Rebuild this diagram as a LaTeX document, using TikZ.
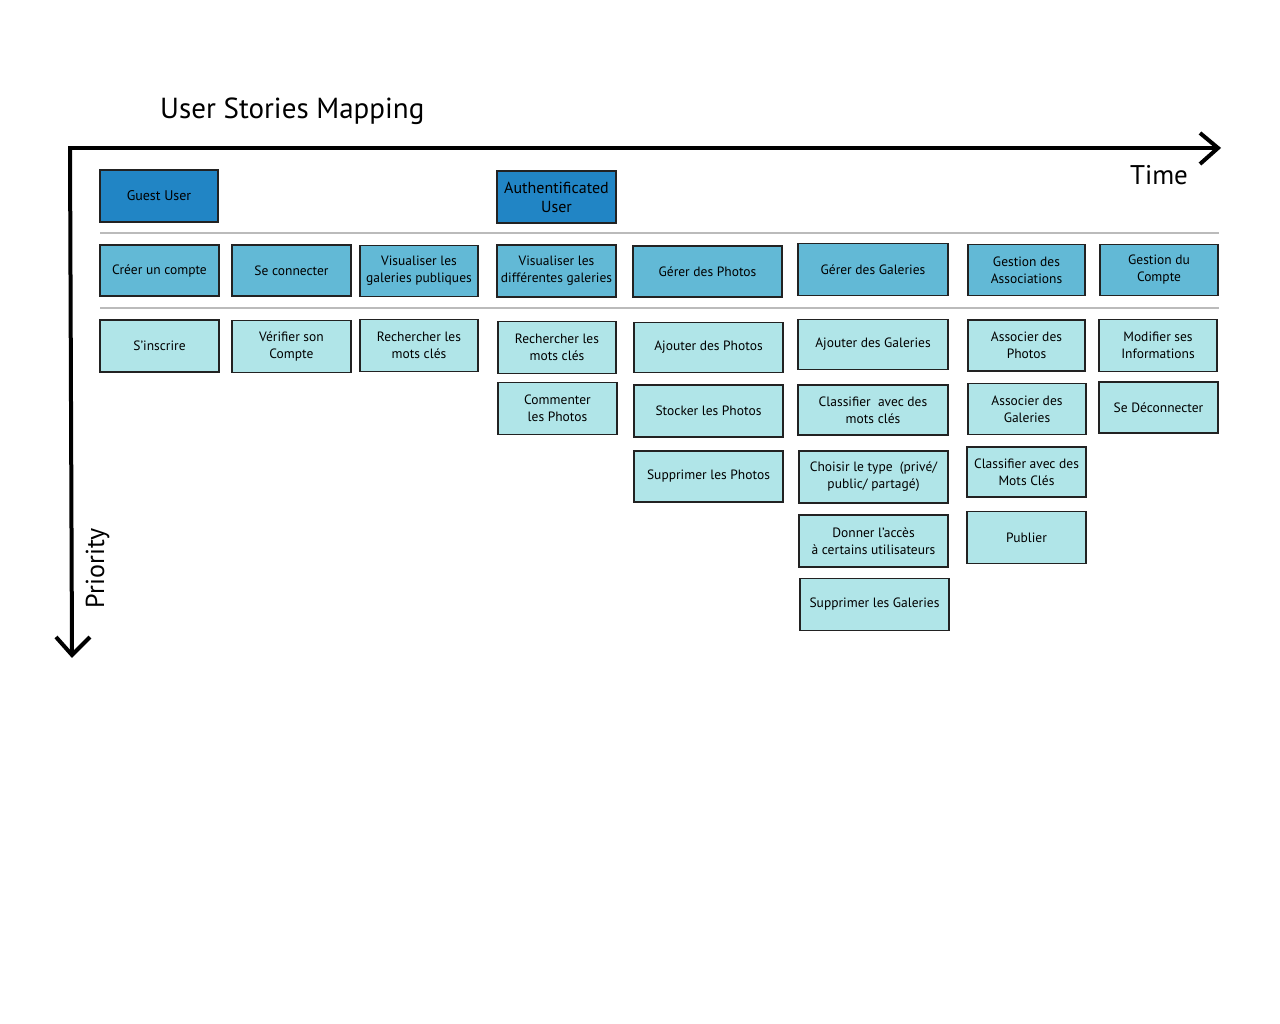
\documentclass[tikz,border=0pt]{standalone}
\usepackage{fontspec}
\setmainfont{PT Sans}
\definecolor{darkb}{HTML}{2185C5}
\definecolor{midb}{HTML}{62B9D6}
\definecolor{lightb}{HTML}{B0E5E8}
\definecolor{edgec}{HTML}{222222}
\definecolor{sepc}{HTML}{BBBBBB}
\tikzset{
  card/.style={draw=edgec, line width=1.3pt, inner sep=1pt, align=center,
    font=\fontsize{13.5}{17}\selectfont, text=black},
  rolebox/.style={card, fill=darkb, font=\fontsize{14}{19}\selectfont},
  epicbox/.style={card, fill=midb},
  storybox/.style={card, fill=lightb},
  axisline/.style={line width=4pt, black},
  sepline/.style={line width=1.5pt, sepc},
  sz/.style 2 args={minimum width=#1pt, minimum height=#2pt},
}
\begin{document}
\begin{tikzpicture}[x=1pt,y=-1pt]
\useasboundingbox (0,0) rectangle (1280,1024);
\fill[white] (0,0) rectangle (1280,1024);

% title and axes labels
\node[anchor=base west, inner sep=0, font=\fontsize{29}{34}\selectfont] (title) at (160,119) {User Stories Mapping};
\node[anchor=base, inner sep=0, font=\fontsize{27}{32}\selectfont] (time) at (1159,185) {Time};
\node[anchor=base, rotate=90, inner sep=0, font=\fontsize{26}{30}\selectfont] (prio) at (104,568) {Priority};

% axes
\coordinate (origin) at (70,148);
\coordinate (tstart) at (68,148);
\coordinate (tend) at (1218,148);
\coordinate (pend) at (72,655);
\coordinate (ta) at (1200,133);
\coordinate (tb) at (1200,164);
\coordinate (pa) at (56,637);
\coordinate (pb) at (90,637);
\draw[axisline] (tstart) -- (tend);
\draw[axisline] (origin) -- (pend);
\draw[axisline, line join=miter] (ta) -- (tend) -- (tb);
\draw[axisline, line join=miter] (pa) -- (pend) -- (pb);

% separators
\coordinate (s1a) at (100,233);
\coordinate (s1b) at (1219,233);
\coordinate (s2a) at (100,308);
\coordinate (s2b) at (1219,308);
\draw[sepline] (s1a) -- (s1b);
\draw[sepline] (s2a) -- (s2b);

% roles
\node[rolebox, sz={118}{52}] (guest) at (159,196) {Guest User};
\node[rolebox, sz={119}{52}, font=\fontsize{16}{19}\selectfont] (auth) at (556.5,197) {Authentificated\\User};

% epics
\node[epicbox, sz={119}{51}] (e1) at (159.5,270.5) {Créer un compte};
\node[epicbox, sz={119}{51}] (e2) at (291.5,270.5) {Se connecter};
\node[epicbox, sz={118}{51}] (e3) at (419,271) {Visualiser les\\galeries publiques};
\node[epicbox, sz={119}{52}] (e4) at (556.5,271) {Visualiser les\\différentes galeries};
\node[epicbox, sz={149}{51}] (e5) at (707.5,271.5) {Gérer des Photos};
\node[epicbox, sz={150}{52}] (e6) at (873,269.5) {Gérer des Galeries};
\node[epicbox, sz={117}{51}] (e7) at (1026.5,270) {Gestion des\\Associations};
\node[epicbox, sz={118}{51}] (e8) at (1159,270) {Gestion du\\Compte};

% stories
\node[storybox, sz={119}{52}] (s11) at (159.5,346) {S’inscrire};
\node[storybox, sz={119}{52}] (s21) at (291.5,346.5) {Vérifier son\\Compte};
\node[storybox, sz={118}{52}] (s31) at (419,345.5) {Rechercher les\\mots clés};
\node[storybox, sz={118}{52}] (s41) at (557,347.5) {Rechercher les\\mots clés};
\node[storybox, sz={119}{52}] (s42) at (557.5,408.5) {Commenter\\les Photos};
\node[storybox, sz={149}{50}] (s51) at (708.5,347.5) {Ajouter des Photos};
\node[storybox, sz={149}{52}] (s52) at (708.5,411) {Stocker les Photos};
\node[storybox, sz={149}{51}] (s53) at (708.5,476.5) {Supprimer les Photos};
\node[storybox, sz={150}{50}] (s61) at (873,344.5) {Ajouter des Galeries};
\node[storybox, sz={150}{50}] (s62) at (873,410) {Classifier~ avec des\\mots clés};
\node[storybox, sz={149}{52}] (s63) at (873.5,477) {Choisir le type~ (privé/\\public/ partagé)};
\node[storybox, sz={149}{52}] (s64) at (873.5,541) {Donner l’accès\\à certains utilisateurs};
\node[storybox, sz={149}{52}] (s65) at (874.5,604.5) {Supprimer les Galeries};
\node[storybox, sz={117}{51}] (s71) at (1026.5,345.5) {Associer des\\Photos};
\node[storybox, sz={118}{51}] (s72) at (1027,409) {Associer des\\Galeries};
\node[storybox, sz={119}{50}] (s73) at (1026.5,472) {Classifier avec des\\Mots Clés};
\node[storybox, sz={119}{52}] (s74) at (1026.5,537.5) {Publier};
\node[storybox, sz={118}{52}] (s81) at (1158,345.5) {Modifier ses\\Informations};
\node[storybox, sz={119}{51}] (s82) at (1158.5,407.5) {Se Déconnecter};
\end{tikzpicture}
\end{document}
